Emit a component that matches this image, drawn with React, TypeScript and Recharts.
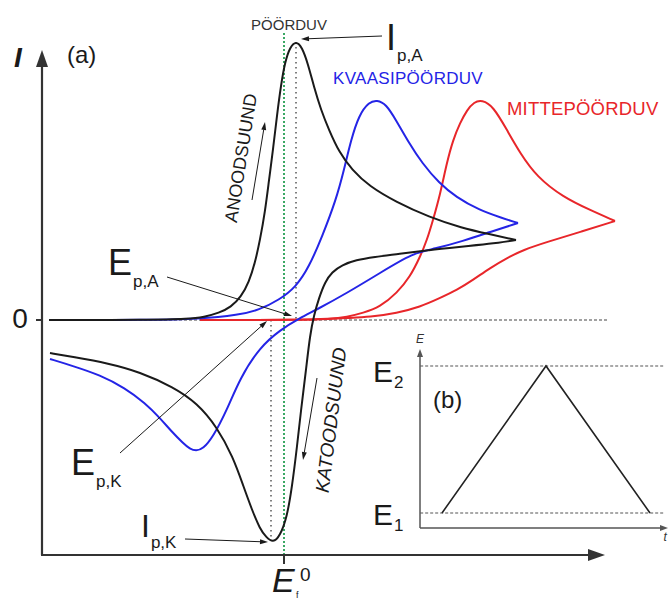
import React from "react";
import { LineChart, Line, XAxis, YAxis, ReferenceLine, ReferenceDot } from "recharts";

// ── Cyclic voltammograms: E relative to E°' , I in arbitrary units ──
type Pt = [number, number];

const blackAnodic: Pt[] = [
  [-235, 0], [-135, 0], [-95, 1], [-80, 3], [-65, 7], [-53, 13], [-43, 23], [-35, 38],
  [-29, 57], [-24, 80], [-19, 108], [-15, 140], [-11, 170], [-7, 205], [-3, 235], [1, 258],
  [6, 273], [12, 279], [18, 273], [24, 256], [30, 233], [37, 210], [45, 190], [55, 168],
  [68, 150], [85, 134], [112, 118], [145, 103], [178, 92], [205, 86], [232, 80],
];
const blackCathodic: Pt[] = [
  [232, 80], [205, 76], [175, 73], [145, 70], [115, 66], [90, 63], [72, 60], [58, 55],
  [48, 48], [41, 38], [35, 22], [30, 5], [26, -15], [22, -50], [17, -90], [13, -127],
  [8, -167], [3, -197], [-4, -216], [-11, -223], [-18, -217], [-24, -209], [-32, -190],
  [-41, -165], [-51, -137], [-67, -107], [-87, -83], [-111, -67], [-144, -52], [-177, -43],
  [-211, -37], [-234, -33],
];
const blueAnodic: Pt[] = [
  [-235, 0], [-135, 0], [-85, 1], [-45, 5], [-25, 10], [-5, 20], [12, 33], [25, 53],
  [38, 83], [52, 120], [60, 150], [67, 180], [75, 205], [85, 218], [93, 220], [102, 216],
  [112, 200], [125, 177], [138, 157], [155, 137], [172, 123], [195, 110], [218, 102], [234, 97],
];
const blueCathodic: Pt[] = [
  [234, 97], [206, 88], [179, 79], [150, 71], [129, 67], [96, 47], [63, 27], [32, 10],
  [16, 2], [-4, -10], [-24, -27], [-44, -58], [-57, -90], [-71, -117], [-81, -129],
  [-88, -131], [-94, -129], [-101, -123], [-112, -112], [-124, -98], [-139, -83],
  [-159, -68], [-184, -55], [-211, -46], [-234, -39],
];
const redAnodic: Pt[] = [
  [-84, 0], [16, 0], [46, 1], [63, 3], [79, 7], [96, 13], [113, 27], [126, 43], [136, 63],
  [143, 80], [149, 100], [156, 125], [163, 158], [169, 180], [176, 197], [183, 210],
  [190, 218], [198, 220], [209, 214], [223, 190], [236, 167], [253, 143], [279, 123],
  [306, 110], [331, 99],
];
const redCathodic: Pt[] = [
  [331, 99], [296, 88], [263, 78], [239, 70], [223, 62], [206, 52], [189, 40], [173, 30],
  [156, 22], [136, 13], [113, 7], [86, 3], [63, 2], [46, 1], [16, 0], [-84, 0],
];

const peakAnodicE = 12;
const peakCathodicE = -13;
const peakAnodicI = 278;
const peakCathodicI = -221;

// ── Triangular potential sweep (inset b) ──
const sweepT = [0, 1, 2];
const sweepE = [0, 1, 0];

const toRows = (pts: Pt[]) => pts.map(([E, I]) => ({ E, I }));
const sweepRows = sweepT.map((t, i) => ({ t, E: sweepE[i] }));

const FONT = "Arial, 'Liberation Sans', Helvetica, sans-serif";
const INK = "#1a1a1a";
const BLUE = "#2424e6";
const RED = "#e8262a";

function Arrow(props: any) {
  const { x1, y1, x2, y2, stroke, strokeWidth, head, wide } = props;
  const a = Math.atan2(y2 - y1, x2 - x1);
  const bx = x2 - head * Math.cos(a);
  const by = y2 - head * Math.sin(a);
  const px = (wide / 2) * Math.sin(a);
  const py = (wide / 2) * Math.cos(a);
  return (
    <g>
      <line x1={x1} y1={y1} x2={bx} y2={by} stroke={stroke} strokeWidth={strokeWidth} />
      <polygon points={`${x2},${y2} ${bx + px},${by - py} ${bx - px},${by + py}`} fill={stroke} />
    </g>
  );
}

function arrow(key: string, from: [number, number], to: [number, number], color: string, width: number, head: number, wide: number) {
  return (
    <ReferenceLine
      key={key}
      segment={[{ x: from[0], y: from[1] }, { x: to[0], y: to[1] }]}
      stroke={color}
      strokeWidth={width}
      ifOverflow="visible"
      shape={(p: any) => <Arrow {...p} stroke={color} strokeWidth={width} head={head} wide={wide} />}
    />
  );
}

function note(key: string, x: number, y: number, body: React.ReactNode, style: any = {}, rotate = 0) {
  return (
    <ReferenceDot
      key={key}
      x={x}
      y={y}
      r={0}
      ifOverflow="visible"
      shape={(p: any) => (
        <text
          x={p.cx}
          y={p.cy}
          fontFamily={FONT}
          fill={INK}
          transform={rotate ? `rotate(${rotate} ${p.cx} ${p.cy})` : undefined}
          {...style}
        >
          {body}
        </text>
      )}
    />
  );
}

function MainChart() {
  const lineProps = { type: "basis" as const, dot: false, activeDot: false, isAnimationActive: false, strokeWidth: 2 };
  return (
    <LineChart width={671} height={601} margin={{ top: 0, right: 0, bottom: 0, left: 0 }}>
      <XAxis type="number" dataKey="E" domain={[-284, 387]} hide allowDataOverflow />
      <YAxis type="number" dataKey="I" domain={[-281, 320]} hide allowDataOverflow />

      {/* zero line */}
      <ReferenceLine segment={[{ x: -235, y: 0 }, { x: 325, y: 0 }]} stroke="#444" strokeWidth={1.2} strokeDasharray="3 2" />
      {/* formal potential */}
      <ReferenceLine segment={[{ x: 0, y: 287 }, { x: 0, y: -236 }]} stroke="#3aa864" strokeWidth={2} strokeDasharray="2 2" />
      {/* peak potentials */}
      <ReferenceLine segment={[{ x: peakAnodicE, y: peakAnodicI }, { x: peakAnodicE, y: 0 }]} stroke="#555" strokeWidth={1.5} strokeDasharray="1.5 3.5" />
      <ReferenceLine segment={[{ x: peakCathodicE, y: 0 }, { x: peakCathodicE, y: peakCathodicI }]} stroke="#555" strokeWidth={1.5} strokeDasharray="1.5 3.5" />

      <Line data={toRows(redAnodic)} dataKey="I" stroke={RED} {...lineProps} />
      <Line data={toRows(redCathodic)} dataKey="I" stroke={RED} {...lineProps} />
      <Line data={toRows(blueAnodic)} dataKey="I" stroke={BLUE} {...lineProps} />
      <Line data={toRows(blueCathodic)} dataKey="I" stroke={BLUE} {...lineProps} />
      <Line data={toRows(blackAnodic)} dataKey="I" stroke={INK} {...lineProps} />
      <Line data={toRows(blackCathodic)} dataKey="I" stroke={INK} {...lineProps} />

      {/* axes */}
      {arrow("yaxis", [-242, -235], [-242, 270], "#333", 2.2, 17, 12)}
      {arrow("xaxis", [-243, -235], [321, -235], "#333", 2.2, 17, 12)}
      <ReferenceLine segment={[{ x: -248, y: 0 }, { x: -242, y: 0 }]} stroke="#333" strokeWidth={2} />
      <ReferenceLine segment={[{ x: 0, y: -235 }, { x: 0, y: -244 }]} stroke="#333" strokeWidth={2} />

      {/* annotation arrows */}
      {arrow("ipa", [98, 284], [17, 281], INK, 1, 8, 5)}
      {arrow("anod", [-32, 120], [-19, 198], INK, 1, 8, 5)}
      {arrow("katod", [33, -58], [19, -140], INK, 1, 8, 5)}
      {arrow("epa", [-117, 43], [8, 4], INK, 1, 8, 5)}
      {arrow("epk", [-164, -133], [-17, -1], INK, 1, 8, 5)}
      {arrow("ipk", [-99, -219], [-16, -222], INK, 1, 8, 5)}

      {/* texts */}
      {note("I", -270, 253, "I", { fontSize: 28, fontWeight: 700, fontStyle: "italic" })}
      {note("a", -217, 257, "(a)", { fontSize: 24 })}
      {note("zero", -264, -8, "0", { fontSize: 28, textAnchor: "middle" })}
      {note("rev", 5, 290, "PÖÖRDUV", { fontSize: 15, textAnchor: "middle", fill: "#333" })}
      {note("quasi", 49, 236, "KVAASIPÖÖRDUV", { fontSize: 17, fill: BLUE, letterSpacing: 0.3 })}
      {note("irrev", 223, 205, "MITTEPÖÖRDUV", { fontSize: 18.5, fill: RED, letterSpacing: 0.2 })}
      {note("ipaT", 102, 270, <>I<tspan fontSize={17} dx={1} dy={11}>p,A</tspan></>, { fontSize: 36 })}
      {note("epaT", -176, 45, <>E<tspan fontSize={17} dx={1} dy={12}>p,A</tspan></>, { fontSize: 36 })}
      {note("epkT", -213, -155, <>E<tspan fontSize={17} dx={1} dy={12}>p,K</tspan></>, { fontSize: 36 })}
      {note("ipkT", -143, -217, <>I<tspan fontSize={17} dx={1} dy={11}>p,K</tspan></>, { fontSize: 32 })}
      {note("anodT", -43, 162, "ANOODSUUND", { fontSize: 18, textAnchor: "middle", dominantBaseline: "central" }, -81)}
      {note("katodT", 47, -100, "KATOODSUUND", { fontSize: 19, textAnchor: "middle", dominantBaseline: "central", fontStyle: "italic" }, -83)}
      {note("e0", -12, -272, "E", { fontSize: 34, fontStyle: "italic" })}
      {note("e0sup", 16, -261, "0", { fontSize: 19 })}
      {note("e0sub", 12, -278, "f", { fontSize: 9 })}
    </LineChart>
  );
}

function SweepInset() {
  return (
    <LineChart width={311} height={230} margin={{ top: 0, right: 0, bottom: 0, left: 0 }}>
      <XAxis type="number" dataKey="t" domain={[-0.7885, 2.2019]} hide allowDataOverflow />
      <YAxis type="number" dataKey="E" domain={[-0.3197, 1.2449]} hide allowDataOverflow />

      <ReferenceLine segment={[{ x: -0.21, y: 1 }, { x: 2.144, y: 1 }]} stroke="#555" strokeWidth={1.2} strokeDasharray="3 2" />
      <ReferenceLine segment={[{ x: -0.21, y: 0 }, { x: 2.144, y: 0 }]} stroke="#555" strokeWidth={1.2} strokeDasharray="3 2" />
      {arrow("ey", [-0.2115, -0.102], [-0.2115, 1.116], "#555", 1.5, 8, 6)}
      {arrow("tx", [-0.2115, -0.102], [2.173, -0.102], "#555", 1.5, 8, 6)}

      <Line data={sweepRows} dataKey="E" type="linear" stroke="#222" strokeWidth={1.6} dot={false} activeDot={false} isAnimationActive={false} />

      {note("Ey", -0.2115, 1.156, "E", { fontSize: 12, fontStyle: "italic", textAnchor: "middle", fill: "#333" })}
      {note("tx", 2.13, -0.19, "t", { fontSize: 12, fontStyle: "italic", fill: "#333" })}
      {note("E2", -0.663, 0.891, <>E<tspan fontSize={17} dx={1} dy={6}>2</tspan></>, { fontSize: 30 })}
      {note("E1", -0.663, -0.082, <>E<tspan fontSize={17} dx={1} dy={6}>1</tspan></>, { fontSize: 30 })}
      {note("b", -0.087, 0.714, "(b)", { fontSize: 24 })}
    </LineChart>
  );
}

export default function App() {
  return (
    <div style={{ position: "absolute", left: 0, top: 0, width: 671, height: 601, background: "#fff", overflow: "hidden" }}>
      <div style={{ position: "absolute", left: 0, top: 0 }}>
        <MainChart />
      </div>
      <div style={{ position: "absolute", left: 360, top: 330 }}>
        <SweepInset />
      </div>
    </div>
  );
}
